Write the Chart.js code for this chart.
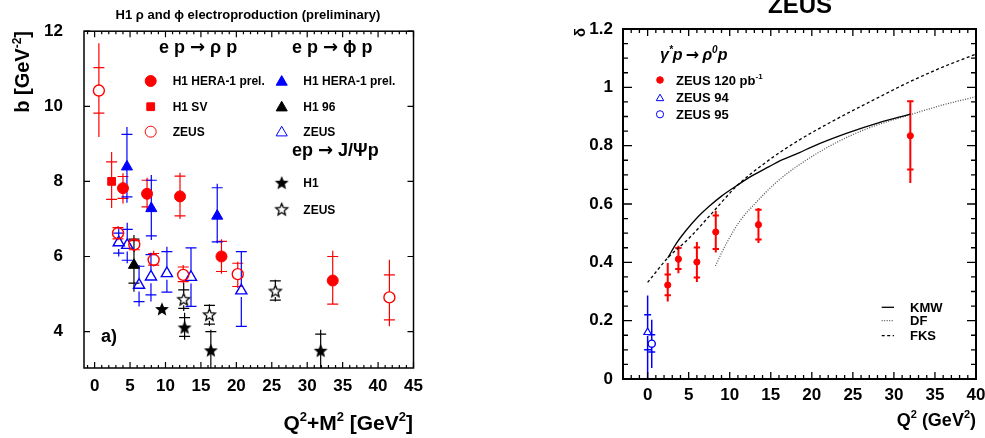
<!DOCTYPE html>
<html>
<head>
<meta charset="utf-8">
<script src="https://cdn.jsdelivr.net/npm/chart.js@4.4.1/dist/chart.umd.min.js"></script>
<style>
  html, body { margin: 0; padding: 0; background: #fff; overflow: hidden; width: 985px; height: 438px; }
  #bSlope { position: absolute; left: 0; top: 0; }
  #delta { position: absolute; left: 490px; top: 0; }
</style>
</head>
<body>
<canvas id="bSlope" width="490" height="438"></canvas>
<canvas id="delta" width="510" height="438"></canvas>
<script>
// ---------------- Panel a): slope b versus Q^2+M^2 ----------------
// e p -> rho p, H1 HERA-1 preliminary
const rhoH1Q      = [4.0, 7.4, 12.05, 17.9, 33.6];
const rhoH1B      = [7.82, 7.67, 7.6, 6.0, 5.36];
const rhoH1StatLo = [7.55, 7.32, 7.08, 5.6, 4.73];
const rhoH1StatHi = [8.13, 8.03, 8.14, 6.4, 6.0];
const rhoH1TotLo  = [7.41, 7.19, 7.0, 5.54, 4.73];
const rhoH1TotHi  = [8.22, 8.1, 8.23, 6.46, 6.15];
// e p -> rho p, H1 SV
const rhoSVQ      = [2.4];
const rhoSVB      = [8.0];
const rhoSVStatLo = [7.52];
const rhoSVStatHi = [8.52];
const rhoSVTotLo  = [7.29];
const rhoSVTotHi  = [8.78];
// e p -> rho p, ZEUS
const rhoZQ      = [0.6, 3.3, 5.6, 8.33, 12.5, 20.2, 41.6];
const rhoZB      = [10.42, 6.62, 6.32, 5.91, 5.51, 5.53, 4.91];
const rhoZStatLo = [9.82, 6.47, 6.18, 5.77, 5.33, 5.2, 4.31];
const rhoZStatHi = [11.03, 6.77, 6.42, 6.08, 5.72, 5.82, 5.51];
const rhoZTotLo  = [9.18, 6.43, 6.12, 5.73, 5.29, 5.16, 4.14];
const rhoZTotHi  = [11.68, 6.81, 6.46, 6.15, 5.77, 5.86, 5.91];
// e p -> phi p, H1 HERA-1 preliminary
const phiH1Q      = [4.56, 8.0, 17.3];
const phiH1B      = [8.39, 7.28, 7.08];
const phiH1StatLo = [7.59, 6.55, 6.39];
const phiH1StatHi = [9.25, 8.03, 7.83];
const phiH1TotLo  = [7.43, 6.44, 6.35];
const phiH1TotHi  = [9.45, 8.17, 7.94];
// e p -> phi p, H1 96
const phi96Q      = [5.55];
const phi96B      = [5.77];
const phi96StatLo = [5.29];
const phi96StatHi = [6.46];
const phi96TotLo  = [5.06];
const phi96TotHi  = [6.57];
// e p -> phi p, ZEUS
const phiZQ      = [3.4, 4.6, 6.27, 7.95, 10.2, 13.6, 20.7];
const phiZB      = [6.37, 6.3, 5.24, 5.46, 5.55, 5.45, 5.09];
const phiZStatLo = [6.09, 5.9, 4.8, 4.98, 5.05, 4.67, 4.14];
const phiZStatHi = [6.62, 6.72, 5.74, 6.05, 6.13, 6.23, 6.13];
const phiZTotLo  = [6.0, 5.82, 4.67, 4.8, 5.05, 4.67, 4.12];
const phiZTotHi  = [6.75, 6.9, 5.77, 6.1, 6.26, 6.23, 6.13];
// e p -> J/psi p, H1
const psiH1Q      = [9.5, 12.7, 16.4, 31.9];
const psiH1B      = [4.6, 4.11, 3.5, 3.49];
const psiH1StatLo = [4.6, 3.87, 2.9, 2.9];
const psiH1StatHi = [4.6, 4.37, 4.0, 3.93];
const psiH1TotLo  = [4.6, 3.78, 2.5, 2.5];
const psiH1TotHi  = [4.6, 4.5, 4.05, 4.05];
// e p -> J/psi p, ZEUS
const psiZQ      = [12.57, 16.2, 25.5];
const psiZB      = [4.86, 4.45, 5.08];
const psiZStatLo = [4.62, 4.2, 4.84];
const psiZStatHi = [5.11, 4.7, 5.35];
const psiZTotLo  = [4.55, 4.15, 4.8];
const psiZTotHi  = [5.3, 4.73, 5.38];
// axis ticks
const bXTicks = [0, 5, 10, 15, 20, 25, 30, 35, 40, 45];
const bYTicks = [4, 6, 8, 10, 12];

// ---------------- Panel ZEUS: delta versus Q^2 ----------------
const z120Q      = [2.45, 3.75, 6.0, 8.3, 13.5, 32.0];
const z120D      = [0.322, 0.411, 0.401, 0.504, 0.529, 0.834];
const z120StatLo = [0.287, 0.377, 0.348, 0.446, 0.478, 0.718];
const z120StatHi = [0.358, 0.449, 0.451, 0.561, 0.58, 0.952];
const z120TotLo  = [0.266, 0.363, 0.333, 0.434, 0.466, 0.672];
const z120TotHi  = [0.398, 0.457, 0.47, 0.577, 0.586, 0.955];
const z94Q = [0.0], z94D = [0.16], z94StatLo = [0.10], z94StatHi = [0.22], z94TotLo = [0.0], z94TotHi = [0.286];
const z95Q = [0.5], z95D = [0.121], z95StatLo = [0.093], z95StatHi = [0.152], z95TotLo = [0.038], z95TotHi = [0.203];
// model curves
const kmwQ = [2.45, 3.5, 4.7, 6.0, 7.5, 9.0, 10.8, 12.8, 14.8, 16.1, 18.5, 20.1, 24.2, 28.2, 32.0];
const kmwD = [0.415, 0.465, 0.51, 0.552, 0.592, 0.627, 0.662, 0.698, 0.728, 0.748, 0.776, 0.797, 0.842, 0.879, 0.908];
const dfQ  = [8.25, 9.6, 11.2, 13.3, 15.7, 18.5, 22.6, 26.7, 32.0, 36.0, 40.0];
const dfD  = [0.388, 0.465, 0.54, 0.608, 0.675, 0.735, 0.805, 0.858, 0.906, 0.94, 0.968];
const fksQ = [0.0, 2.45, 5.1, 7.5, 10.8, 14.5, 18.5, 22.6, 26.7, 32.0, 36.0, 40.0];
const fksD = [0.331, 0.415, 0.484, 0.558, 0.66, 0.745, 0.82, 0.885, 0.945, 1.02, 1.07, 1.114];
const dXTicks = [0, 5, 10, 15, 20, 25, 30, 35, 40];
const dYTicks = [0, 0.2, 0.4, 0.6, 0.8, 1, 1.2];

// ---------------- helpers ----------------
const FONT = '"Liberation Sans", Arial, Helvetica, sans-serif';
const SYM = '"DejaVu Sans", sans-serif';
const RED = '#ff0000', BLUE = '#0000ff', BLACK = '#000000', NONE = 'rgba(0,0,0,0)';

const pts = (xs, ys) => xs.map((v, i) => ({ x: v, y: ys[i] }));

function starImage(r, filled) {
  const s = Math.ceil(2 * r + 4);
  const c = document.createElement('canvas');
  c.width = c.height = s;
  const g = c.getContext('2d');
  g.translate(s / 2, s / 2 + 0.5);
  g.beginPath();
  for (let i = 0; i < 10; i++) {
    const rr = i % 2 ? r * 0.45 : r;
    const a = -Math.PI / 2 + i * Math.PI / 5;
    g.lineTo(rr * Math.cos(a), rr * Math.sin(a));
  }
  g.closePath();
  if (filled) { g.fillStyle = '#000'; g.fill(); }
  g.lineWidth = 1.3; g.strokeStyle = '#000'; g.stroke();
  return c;
}
const starFull = starImage(5.6, true);
const starOpen = starImage(6.2, false);

// text with superscript pieces: parts = [[text, isSup, family?], ...]
function rich(ctx, parts, x, y, size, align, style) {
  const st = style || 'bold';
  const sup = Math.round(size * 0.62);
  const fontOf = ([t, s, fam]) => `${st} ${s ? sup : size}px ${fam || FONT}`;
  const widths = parts.map(p => { ctx.font = fontOf(p); return ctx.measureText(p[0]).width; });
  const w = widths.reduce((a, b) => a + b, 0);
  let cx = align === 'right' ? x - w : align === 'center' ? x - w / 2 : x;
  ctx.textAlign = 'left';
  ctx.textBaseline = 'alphabetic';
  parts.forEach((p, i) => {
    ctx.font = fontOf(p);
    ctx.fillText(p[0], cx, p[1] ? y - size * 0.42 : y);
    cx += widths[i];
  });
}
function txt(ctx, t, x, y, size, align) { rich(ctx, [[t, 0]], x, y, size, align); }
// a reaction label "a -> b" with a wide arrow glyph
function reaction(ctx, left, right, x, y, size) {
  rich(ctx, [[left, 0], ['\u2192', 0, SYM], [right, 0]], x, y, size, 'left');
}

function marker(ctx, style, r, x, y, fill, stroke, lw) {
  ctx.save();
  ctx.fillStyle = fill; ctx.strokeStyle = stroke;
  Chart.helpers.drawPoint(ctx, { pointStyle: style, radius: r, borderWidth: lw, rotation: 0 }, x, y);
  ctx.restore();
}

// ROOT-like error bars: line over the total error, crossbars at the statistical error
const errorBars = {
  id: 'errorBars',
  beforeDatasetsDraw(chart) {
    const { ctx, chartArea: a, scales: { x, y } } = chart;
    ctx.save();
    ctx.beginPath();
    ctx.rect(a.left, a.top, a.right - a.left, a.bottom - a.top);
    ctx.clip();
    chart.data.datasets.forEach(ds => {
      if (!ds.err) return;
      const e = ds.err;
      ctx.strokeStyle = e.color || ds.borderColor;
      ctx.lineWidth = e.width;
      ds.data.forEach((p, i) => {
        const px = x.getPixelForValue(p.x), py = y.getPixelForValue(p.y);
        const hi = y.getPixelForValue(e.totHi[i]), lo = y.getPixelForValue(e.totLo[i]);
        const sh = y.getPixelForValue(e.statHi[i]), sl = y.getPixelForValue(e.statLo[i]);
        const gap = e.gap || 0;
        ctx.beginPath();
        if (hi < py - gap) { ctx.moveTo(px, hi); ctx.lineTo(px, py - gap); }
        if (lo > py + gap) { ctx.moveTo(px, py + gap); ctx.lineTo(px, lo); }
        if (e.statHi[i] !== p.y) { ctx.moveTo(px - e.cap, sh); ctx.lineTo(px + e.cap, sh); }
        if (e.statLo[i] !== p.y) { ctx.moveTo(px - e.cap, sl); ctx.lineTo(px + e.cap, sl); }
        ctx.stroke();
      });
    });
    ctx.restore();
  }
};

// frame with inward ticks on all four sides
const frameTicks = {
  id: 'frameTicks',
  afterDatasetsDraw(chart, args, o) {
    const { ctx, chartArea: a, scales: { x, y } } = chart;
    ctx.save();
    ctx.strokeStyle = '#000';
    ctx.lineWidth = o.tickWidth;
    ctx.beginPath();
    for (let i = Math.ceil(x.min / o.xStep - 1e-9); i <= Math.floor(x.max / o.xStep + 1e-9); i++) {
      const px = x.getPixelForValue(i * o.xStep);
      const len = i % o.xMajorEvery === 0 ? o.xMajorLen : o.xMinorLen;
      ctx.moveTo(px, a.bottom); ctx.lineTo(px, a.bottom - len);
      ctx.moveTo(px, a.top); ctx.lineTo(px, a.top + len);
    }
    for (let i = Math.ceil(y.min / o.yStep - 1e-9); i <= Math.floor(y.max / o.yStep + 1e-9); i++) {
      const py = y.getPixelForValue(i * o.yStep);
      const len = i % o.yMajorEvery === 0 ? o.yMajorLen : o.yMinorLen;
      ctx.moveTo(a.left, py); ctx.lineTo(a.left + len, py);
      ctx.moveTo(a.right, py); ctx.lineTo(a.right - len, py);
    }
    ctx.stroke();
    ctx.lineWidth = o.frameWidth;
    ctx.strokeRect(a.left, a.top, a.right - a.left, a.bottom - a.top);
    ctx.restore();
  }
};

const tickFont = { family: FONT, size: 17, weight: 'bold' };
function axis(min, max, ticks, size, pad, isY) {
  return {
    type: 'linear', min, max,
    afterBuildTicks: s => { s.ticks = ticks.map(v => ({ value: v })); },
    afterFit: s => { if (isY) s.width = size; else s.height = size; },
    grid: { display: false, drawTicks: false },
    border: { display: false },
    ticks: { padding: pad, color: '#000', font: tickFont, autoSkip: false, maxRotation: 0,
             callback: v => String(+Number(v).toFixed(2)) }
  };
}

// ---------------- panel a) ----------------
const bLabels = {
  id: 'bLabels',
  afterDraw(chart) {
    const ctx = chart.ctx;
    ctx.save();
    ctx.fillStyle = '#000';
    txt(ctx, 'H1 \u03c1 and \u03d5 electroproduction (preliminary)', 248, 18.5, 13, 'center');
    ctx.save();
    ctx.translate(29, 31);
    ctx.rotate(-Math.PI / 2);
    rich(ctx, [['b [GeV', 0], ['-2', 1], [']', 0]], 0, 0, 20, 'right');
    ctx.restore();
    rich(ctx, [['Q', 0], ['2', 1], ['+M', 0], ['2', 1], [' [GeV', 0], ['2', 1], [']', 0]], 413, 430, 21, 'right');
    txt(ctx, 'a)', 101, 342, 18, 'left');

    reaction(ctx, 'e p ', ' \u03c1 p', 159, 53, 18);
    reaction(ctx, 'e p ', ' \u03d5 p', 292, 53, 18);
    reaction(ctx, 'ep ', ' J/\u03a8p', 292, 156, 18);

    const c1 = 150.7, c2 = 281.7, t1 = 172.7, t2 = 303.3;
    marker(ctx, 'circle', 5.5, c1, 81, RED, RED, 1);
    marker(ctx, 'rect', 5.5, c1, 106.7, RED, RED, 1);
    marker(ctx, 'circle', 5.5, c1, 131.7, NONE, RED, 1.4);
    marker(ctx, 'triangle', 6.4, c2, 82, BLUE, BLUE, 1);
    marker(ctx, 'triangle', 6.4, c2, 107.7, BLACK, BLACK, 1);
    marker(ctx, 'triangle', 6.4, c2, 132.7, NONE, BLUE, 1.4);
    ctx.drawImage(starFull, c2 - starFull.width / 2, 182.7 - starFull.height / 2);
    ctx.drawImage(starOpen, c2 - starOpen.width / 2, 209.3 - starOpen.height / 2);
    ctx.fillStyle = '#000';
    txt(ctx, 'H1 HERA-1 prel.', t1, 85.3, 12, 'left');
    txt(ctx, 'H1 SV', t1, 111, 12, 'left');
    txt(ctx, 'ZEUS', t1, 136, 12, 'left');
    txt(ctx, 'H1 HERA-1 prel.', t2, 85.3, 12, 'left');
    txt(ctx, 'H1 96', t2, 111, 12, 'left');
    txt(ctx, 'ZEUS', t2, 136, 12, 'left');
    txt(ctx, 'H1', t2, 187, 12, 'left');
    txt(ctx, 'ZEUS', t2, 213.6, 12, 'left');
    ctx.restore();
  }
};

function bSet(xs, ys, sLo, sHi, tLo, tHi, style, r, fill, stroke, open, errColor) {
  return {
    data: pts(xs, ys), pointStyle: style, pointRadius: r, backgroundColor: fill, borderColor: stroke,
    borderWidth: open ? 1.4 : 1, showLine: false,
    err: { statLo: sLo, statHi: sHi, totLo: tLo, totHi: tHi, cap: 5.5, width: 1.2, gap: open ? r : 0, color: errColor }
  };
}

new Chart(document.getElementById('bSlope'), {
  type: 'scatter',
  data: {
    datasets: [
      bSet(rhoZQ, rhoZB, rhoZStatLo, rhoZStatHi, rhoZTotLo, rhoZTotHi, 'circle', 5.5, NONE, RED, true),
      bSet(phiZQ, phiZB, phiZStatLo, phiZStatHi, phiZTotLo, phiZTotHi, 'triangle', 6.4, NONE, BLUE, true),
      bSet(psiZQ, psiZB, psiZStatLo, psiZStatHi, psiZTotLo, psiZTotHi, starOpen, 6, NONE, BLACK, true),
      bSet(psiH1Q, psiH1B, psiH1StatLo, psiH1StatHi, psiH1TotLo, psiH1TotHi, starFull, 5.5, BLACK, BLACK, false),
      bSet(phi96Q, phi96B, phi96StatLo, phi96StatHi, phi96TotLo, phi96TotHi, 'triangle', 6.4, BLACK, BLACK, false),
      bSet(rhoSVQ, rhoSVB, rhoSVStatLo, rhoSVStatHi, rhoSVTotLo, rhoSVTotHi, 'rect', 5.5, RED, RED, false),
      bSet(rhoH1Q, rhoH1B, rhoH1StatLo, rhoH1StatHi, rhoH1TotLo, rhoH1TotHi, 'circle', 5.5, RED, RED, false),
      bSet(phiH1Q, phiH1B, phiH1StatLo, phiH1StatHi, phiH1TotLo, phiH1TotHi, 'triangle', 6.4, BLUE, BLUE, false)
    ]
  },
  options: {
    responsive: false, animation: false, events: [],
    layout: { padding: { left: 0, top: 30.6, right: 76.5, bottom: 0 } },
    plugins: {
      legend: { display: false }, tooltip: { enabled: false },
      frameTicks: { tickWidth: 1.2, frameWidth: 1.5, xStep: 1, xMajorEvery: 5, xMajorLen: 6, xMinorLen: 3,
                    yStep: 2, yMajorEvery: 1, yMajorLen: 6, yMinorLen: 3 }
    },
    scales: {
      x: axis(-1.5, 45, bXTicks, 70, 8, false),
      y: axis(3.03, 12, bYTicks, 84, 21, true)
    }
  },
  plugins: [errorBars, frameTicks, bLabels]
});

// ---------------- panel ZEUS ----------------
const dLabels = {
  id: 'dLabels',
  afterDraw(chart) {
    const ctx = chart.ctx;
    ctx.save();
    ctx.fillStyle = '#000';
    txt(ctx, 'ZEUS', 310, 13, 24, 'center');
    ctx.save();
    ctx.translate(95, 28);
    ctx.rotate(-Math.PI / 2);
    txt(ctx, '\u03b4', 0, 0, 15, 'right');
    ctx.restore();
    rich(ctx, [['Q', 0], ['2', 1], [' (GeV', 0], ['2', 1], [')', 0]], 486, 426, 18, 'right');
    rich(ctx, [['\u03b3', 0], ['*', 1], ['p\u2009', 0], ['\u2192', 0, SYM], ['\u2009\u03c1', 0], ['0', 1], ['p', 0]],
         170, 60, 16, 'left', 'italic bold');

    marker(ctx, 'circle', 3.3, 170, 80, RED, RED, 1);
    marker(ctx, 'triangle', 4.3, 170, 98.5, NONE, BLUE, 1.2);
    marker(ctx, 'circle', 3.6, 170, 114.3, NONE, BLUE, 1.4);
    ctx.fillStyle = '#000';
    rich(ctx, [['ZEUS 120 pb', 0], ['-1', 1]], 186, 84.5, 13, 'left');
    txt(ctx, 'ZEUS 94', 186, 102.2, 13, 'left');
    txt(ctx, 'ZEUS 95', 186, 118.8, 13, 'left');

    const rows = [['KMW', [], BLACK, 307.3], ['DF', [1, 1.5], '#555', 320.7], ['FKS', [3, 2.5], BLACK, 335.7]];
    rows.forEach(([name, dash, col, yy]) => {
      ctx.save();
      ctx.strokeStyle = col; ctx.lineWidth = 1.3; ctx.setLineDash(dash);
      ctx.beginPath(); ctx.moveTo(391.7, yy); ctx.lineTo(404, yy); ctx.stroke();
      ctx.restore();
      txt(ctx, name, 420, yy + 4.6, 13, 'left');
    });
    ctx.restore();
  }
};

function curve(xs, ys, dash, col) {
  return { data: pts(xs, ys), showLine: true, pointRadius: 0, borderColor: col, borderWidth: 1.3,
           borderDash: dash, cubicInterpolationMode: 'monotone', fill: false };
}

new Chart(document.getElementById('delta'), {
  type: 'scatter',
  data: {
    datasets: [
      curve(kmwQ, kmwD, [], BLACK),
      curve(dfQ, dfD, [1, 1.5], '#555'),
      curve(fksQ, fksD, [3, 2.5], BLACK),
      { data: pts(z94Q, z94D), pointStyle: 'triangle', pointRadius: 4.3, backgroundColor: NONE, borderColor: BLUE,
        borderWidth: 1.2, err: { statLo: z94StatLo, statHi: z94StatHi, totLo: z94TotLo, totHi: z94TotHi, cap: 3.5, width: 1.5, gap: 3.5 } },
      { data: pts(z95Q, z95D), pointStyle: 'circle', pointRadius: 3.6, backgroundColor: NONE, borderColor: BLUE,
        borderWidth: 1.4, err: { statLo: z95StatLo, statHi: z95StatHi, totLo: z95TotLo, totHi: z95TotHi, cap: 3.5, width: 1.5, gap: 3.6 } },
      { data: pts(z120Q, z120D), pointStyle: 'circle', pointRadius: 3.1, backgroundColor: RED, borderColor: RED,
        borderWidth: 1, err: { statLo: z120StatLo, statHi: z120StatHi, totLo: z120TotLo, totHi: z120TotHi, cap: 3.2, width: 2 } }
    ]
  },
  options: {
    responsive: false, animation: false, events: [],
    layout: { padding: { left: 0, top: 29, right: 24, bottom: 0 } },
    plugins: {
      legend: { display: false }, tooltip: { enabled: false },
      frameTicks: { tickWidth: 1.3, frameWidth: 2, xStep: 1, xMajorEvery: 5, xMajorLen: 7, xMinorLen: 4,
                    yStep: 0.05, yMajorEvery: 4, yMajorLen: 9, yMinorLen: 5 }
    },
    scales: {
      x: axis(-3, 40, dXTicks, 59, 6, false),
      y: axis(0, 1.2, dYTicks, 133, 10, true)
    }
  },
  plugins: [errorBars, frameTicks, dLabels]
});
</script>
</body>
</html>
